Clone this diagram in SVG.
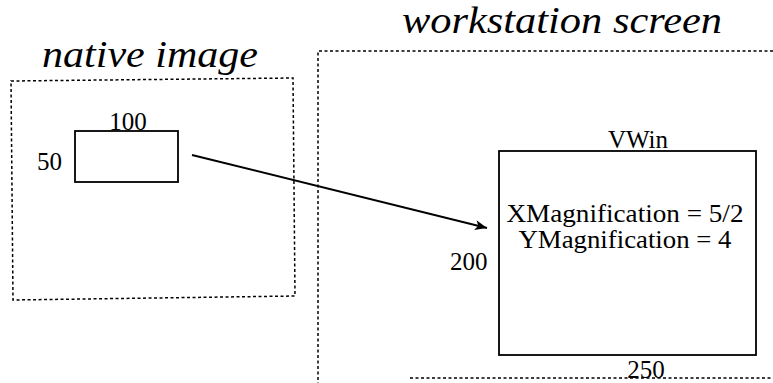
<svg xmlns="http://www.w3.org/2000/svg" width="773" height="383" viewBox="0 0 773 383">
  <style>
    .frame { fill: none; stroke: #000; stroke-width: 1.5; stroke-dasharray: 3 2.5; }
    .box { fill: #fff; stroke: #000; stroke-width: 1.8; }
    text { font-family: Times New Roman, Liberation Serif, Tinos, DejaVu Serif, serif; fill: #000; }
    .title { font-style: italic; font-size: 38px; }
    .lbl { font-size: 25px; }
    .conn { fill: none; stroke: #000; stroke-width: 2; }
  </style>
  <defs>
    <marker id="head" viewBox="0 0 12 10" refX="12" refY="5" markerWidth="12" markerHeight="10" markerUnits="userSpaceOnUse" orient="auto">
      <path d="M0,0 L12,5 L0,10 L3,5 Z" fill="#000"/>
    </marker>
  </defs>

  <rect width="773" height="383" fill="#fff"/>

  <!-- source image region -->
  <g id="native-image">
    <text class="title" x="42" y="67" textLength="216" lengthAdjust="spacingAndGlyphs">native image</text>
    <path class="frame" d="M11,81 L293,78 L295,296 L13,300 Z"/>
  </g>

  <g id="native-rect">
    <rect class="box" x="75" y="131" width="103" height="51"/>
    <text class="lbl" x="128" y="130" text-anchor="middle">100</text>
    <text class="lbl" x="37" y="170">50</text>
  </g>

  <!-- display region, partly cut off at the right and bottom -->
  <g id="workstation-screen">
    <text class="title" x="402" y="33" textLength="320" lengthAdjust="spacingAndGlyphs">workstation screen</text>
    <path class="frame" d="M773,51 L318,51 L318,383"/>
    <path class="frame" d="M410,378 L773,378"/>
  </g>

  <g id="vwin">
    <rect class="box" x="499" y="151" width="257" height="204"/>
    <text class="lbl" x="638" y="148" text-anchor="middle">VWin</text>
    <text class="lbl" x="625" y="222" text-anchor="middle" textLength="237" lengthAdjust="spacingAndGlyphs">XMagnification = 5/2</text>
    <text class="lbl" x="625" y="248" text-anchor="middle" textLength="213" lengthAdjust="spacingAndGlyphs">YMagnification = 4</text>
    <text class="lbl" x="450" y="270">200</text>
    <text class="lbl" x="646" y="378" text-anchor="middle">250</text>
  </g>

  <g id="connectors">
    <line class="conn" x1="192" y1="155" x2="487" y2="228" marker-end="url(#head)"/>
  </g>
</svg>
